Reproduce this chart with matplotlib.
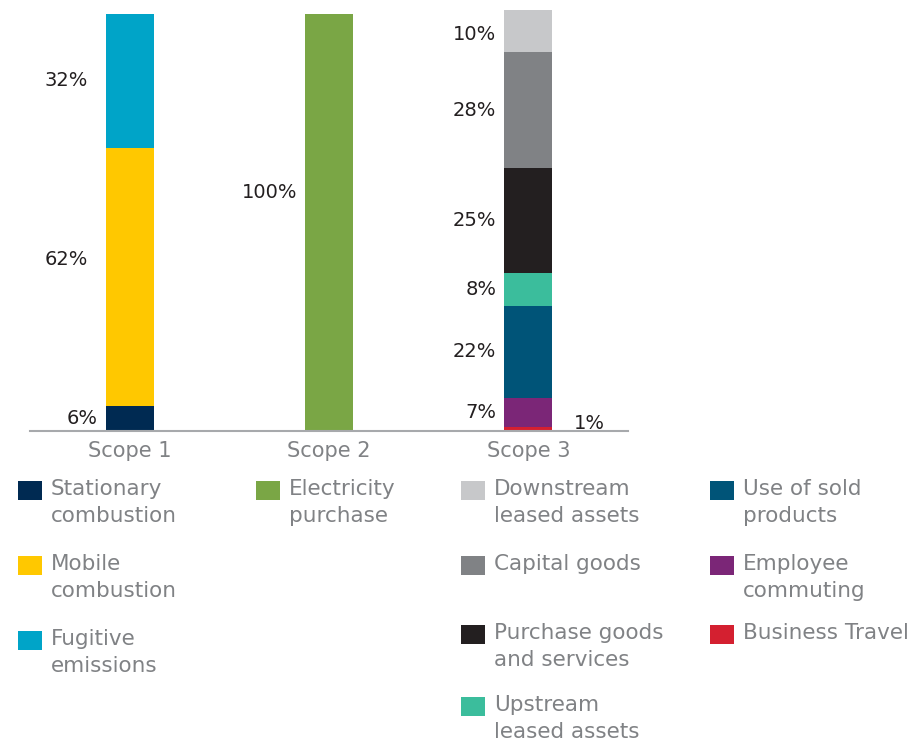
import matplotlib
matplotlib.use("Agg")
import matplotlib.pyplot as plt
from matplotlib.patches import Rectangle

# data
scopes = ["Scope 1", "Scope 2", "Scope 3"]

scope1_names = ["Stationary\ncombustion", "Mobile\ncombustion", "Fugitive\nemissions"]
scope1_values = [6, 62, 32]
scope1_colors = ["#002a52", "#ffc800", "#00a4c8"]

scope2_names = ["Electricity\npurchase"]
scope2_values = [100]
scope2_colors = ["#7aa645"]

# bottom -> top
scope3_names = ["Business Travel", "Employee\ncommuting", "Use of sold\nproducts",
                "Upstream\nleased assets", "Purchase goods\nand services",
                "Capital goods", "Downstream\nleased assets"]
scope3_values = [1, 7, 22, 8, 25, 28, 10]
scope3_colors = ["#d42030", "#7b2677", "#005478", "#3bbd9c", "#231f20",
                 "#808285", "#c7c8ca"]

LABEL_DARK = "#231f20"
TEXT_GREY = "#808285"
FONT = "DejaVu Sans"

fig = plt.figure(figsize=(9.12, 7.47), dpi=100)
W, H = 912, 747
ax = fig.add_axes([30 / W, (H - 431) / H, 598 / W, 421 / H])

bar_w = 0.24
# label placement tweaks (data units) where the label is not centred on its segment
label_y = {(0, 1): 41.2, (1, 0): 57.3, (2, 6): 95.2}
label_gap = {(0, 1): 0.09, (0, 2): 0.09}

stacks = [(scope1_values, scope1_colors), (scope2_values, scope2_colors),
          (scope3_values, scope3_colors)]
for i, (vals, cols) in enumerate(stacks):
    bottom = 0
    for j, (v, c) in enumerate(zip(vals, cols)):
        ax.bar(i, v, bottom=bottom, width=bar_w, color=c, linewidth=0)
        y = label_y.get((i, j), bottom + v / 2)
        if v <= 1:
            ax.text(i + bar_w / 2 + 0.11, bottom + 1.8, f"{v}%", ha="left", va="center",
                    fontsize=14, color=LABEL_DARK, family=FONT)
        else:
            gap = label_gap.get((i, j), 0.04)
            ax.text(i - bar_w / 2 - gap, y, f"{v}%", ha="right", va="center",
                    fontsize=14, color=LABEL_DARK, family=FONT)
        bottom += v

ax.set_xlim(-0.5, 2.5)
ax.set_ylim(0, 101)
ax.set_xticks(range(len(scopes)))
ax.set_xticklabels(scopes, fontsize=15, color=TEXT_GREY, family=FONT)
ax.tick_params(axis="x", length=0, pad=7)
ax.set_yticks([])
for s in ["top", "right", "left"]:
    ax.spines[s].set_visible(False)
ax.spines["bottom"].set_color("#a7a9ac")
ax.spines["bottom"].set_linewidth(1.5)

# legend, drawn by hand in pixel coordinates
legend_cols = [
    (18, list(zip(scope1_names, scope1_colors)), [481, 556, 631]),
    (256, list(zip(scope2_names, scope2_colors)), [481]),
    (461, list(zip(scope3_names[::-1][:4], scope3_colors[::-1][:4])), [481, 556, 625, 697]),
    (710, list(zip(scope3_names[::-1][4:], scope3_colors[::-1][4:])), [481, 556, 625]),
]
for x0, items, ys in legend_cols:
    for (name, col), y0 in zip(items, ys):
        fig.patches.append(Rectangle((x0 / W, 1 - (y0 + 19) / H), 24 / W, 19 / H,
                                     transform=fig.transFigure, color=col, linewidth=0))
        fig.text((x0 + 33) / W, 1 - (y0 - 2) / H, name, ha="left", va="top",
                 fontsize=15.5, color=TEXT_GREY, family=FONT, linespacing=1.45)

fig.savefig("out.png", dpi=100)
